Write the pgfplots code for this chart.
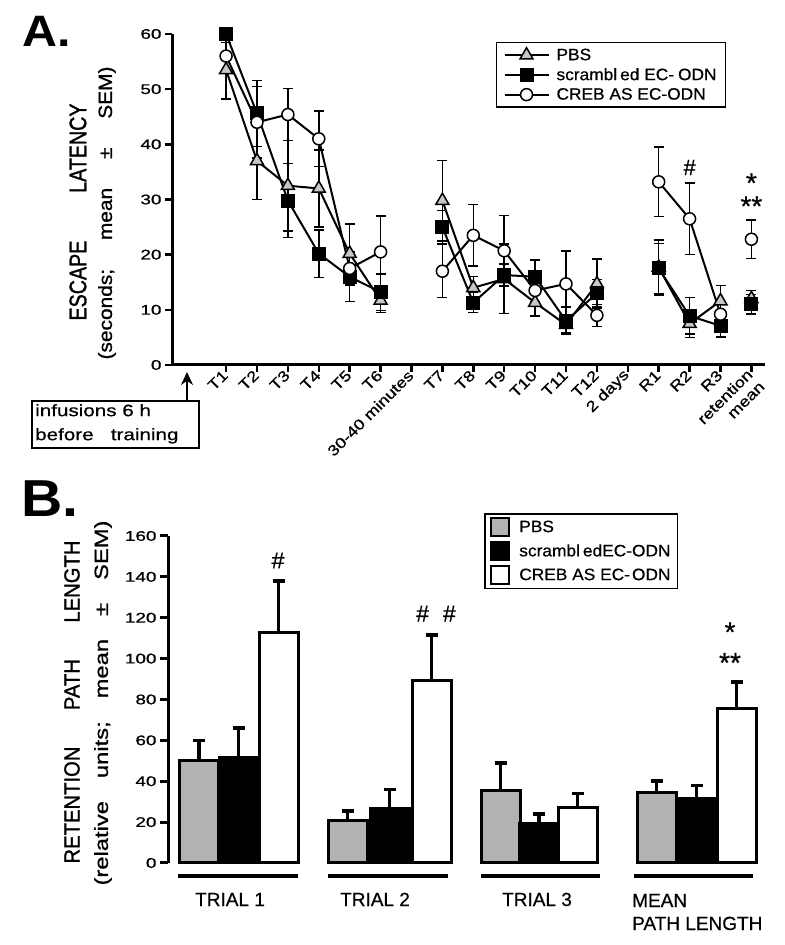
\documentclass[border=0pt]{standalone}
\usepackage{fontspec}
\setmainfont[FakeBold=0.6]{Liberation Sans}
\newfontfamily\tickfont[FakeStretch=1.35,FakeBold=0.8]{Liberation Sans}
\newfontfamily\xtfont[FakeStretch=1.2,FakeBold=0.8]{Liberation Sans}
\newfontfamily\legfont[FakeStretch=1.05,FakeBold=0.6]{Liberation Sans}
\newfontfamily\boxfont[FakeStretch=1.25,FakeBold=0.6]{Liberation Sans}
\newfontfamily\labAone[FakeStretch=0.82,FakeBold=1.2]{Liberation Sans}
\newfontfamily\labAtwo[FakeStretch=1.1,FakeBold=1.0]{Liberation Sans}
\newfontfamily\labBone[FakeStretch=0.92,FakeBold=1.2]{Liberation Sans}
\newfontfamily\labBtwo[FakeStretch=1.25,FakeBold=1.0]{Liberation Sans}
\newfontfamily\panelfont[FakeStretch=1.1]{Liberation Sans}
\usepackage{pgfplots}
\pgfplotsset{compat=1.18}
\usetikzlibrary{arrows.meta}

\pgfplotstableread{
x y e
1 53.5 5.3
2 37 7
3 32.5 8.2
4 32 7
5 20.2 5.4
6 11.7 2.2
7 nan 0
8 29.8 7.3
9 14 2
10 15.6 6.3
11 11.3 2.4
12 7.3 1.5
13 14.7 4.5
14 nan 0
15 17.7 5
16 7.5 2.5
17 11.6 2.8
17.5 nan 0
18 12 1.5
}\pbs
\pgfplotstableread{
x y e
1 60 1
2 45.6 6
3 29.8 6.7
4 20.2 4.3
5 16 4.5
6 13.2 3.3
7 nan 0
8 25 3
9 11.3 1.8
10 16.3 2
11 16 3
12 8 2.5
13 13 2.5
14 nan 0
15 17.5 4.5
16 8.9 3.3
17 7.1 2
17.5 nan 0
18 11 1.8
}\scr
\pgfplotstableread{
x y e
1 56 2.5
2 44 6.5
3 45.4 4.7
4 41 5
5 17.5 3
6 20.5 6.5
7 nan 0
8 17 4.8
9 23.5 5.6
10 20.7 6.4
11 13.5 2
12 14.7 6
13 9 2
14 nan 0
15 33.2 6.3
16 26.5 6.5
17 9.2 2
17.5 nan 0
18 22.8 3.5
}\creb

\pgfplotstableread{
x y e
199 50 10
347.5 21 4.5
500.5 35.5 13.5
656.5 34.5 5.5
}\bpbs
\pgfplotstableread{
x y e
238.5 51.5 14.5
389.5 26.5 9.5
539 19.5 4.5
696.5 31.5 6.5
}\bscr
\pgfplotstableread{
x y e
278.5 113 25
431.5 89.5 22
577.5 27 7
736.5 75.5 13
}\bcreb

\begin{document}
\begin{tikzpicture}
\path[use as bounding box] (0,0) rectangle (785bp,945bp);

% ---------------- Panel A ----------------
\begin{axis}[
  at={(172bp,580bp)}, anchor=south west,
  scale only axis, width=593bp, height=331bp,
  xmin=-0.75, xmax=18.44, ymin=0, ymax=60,
  axis x line*=bottom, axis y line*=left,
  axis line style={line width=3bp},
  tick align=outside, major tick length=7bp,
  tick style={line width=2.5bp, black},
  ytick={0,10,...,60},
  xtick={1,...,18},
  xticklabels={T1,T2,T3,T4,T5,T6,30-40 minutes,T7,T8,T9,T10,T11,T12,2 days,R1,R2,R3,{\phantom{mean}\\retention\\mean}},
  x tick label style={rotate=45, anchor=east, align=right, inner sep=1bp,
     font=\xtfont\fontsize{15bp}{17bp}\selectfont},
  y tick label style={font=\tickfont\fontsize{14bp}{16bp}\selectfont},
  /pgf/number format/assume math mode=true,
  clip=false,
  unbounded coords=jump,
  legend style={at={(0.546,0.976)}, anchor=north west, draw=black, line width=1.5bp,
     font=\legfont\fontsize{16.5bp}{18bp}\selectfont, inner xsep=7bp, inner ysep=4bp,
     row sep=2.5bp, column sep=5bp, cells={anchor=west}},
  legend image code/.code={\draw[mark repeat=2,mark phase=2,#1] plot coordinates {(0bp,0bp) (22bp,0bp) (44bp,0bp)};},
  every axis plot/.append style={line width=2bp, black},
  error bars/error bar style={line width=1.5bp},
  error bars/error mark options={rotate=90, line width=1.5bp, mark size=5bp},
]
\addplot[mark=triangle*, mark size=7.5bp, mark options={fill=black!22, draw=black, line width=1.5bp},
   error bars/.cd, y dir=both, y explicit]
   table[x=x,y=y,y error=e]{\pbs};
\addlegendentry{PBS}
\addplot[mark=square*, mark size=6bp, mark options={fill=black, draw=black},
   error bars/.cd, y dir=both, y explicit]
   table[x=x,y=y,y error=e]{\scr};
\addlegendentry{scrambl\kern3bp ed EC-\kern4bp ODN}
\addplot[mark=*, mark size=6bp, mark options={fill=white, draw=black, line width=1.5bp},
   error bars/.cd, y dir=both, y explicit]
   table[x=x,y=y,y error=e]{\creb};
\addlegendentry{CREB AS EC-ODN}
\node[font=\fontsize{22bp}{22bp}\selectfont] at (axis cs:16,35.8) {\#};
\node[font=\fontsize{28bp}{28bp}\selectfont] at (axis cs:18,33) {*};
\node[font=\fontsize{28bp}{28bp}\selectfont] at (axis cs:18,28.8) {**};
\end{axis}

% infusions box and arrow
\draw[line width=1.5bp] (32bp,544bp) rectangle (199bp,497bp);
\node[anchor=north west, align=left, inner sep=0pt, font=\boxfont\fontsize{16.5bp}{24bp}\selectfont]
  at (35bp,541bp) {infusions 6 h\\before\ \ \ training};
\draw[line width=2bp, -{Stealth[length=13bp,width=12bp]}] (187bp,544bp) -- (187bp,573bp);

% y label A
\node[rotate=90, inner sep=0pt, font=\labAone\fontsize{24bp}{24bp}\selectfont] at (78bp,733bp)
  {\makebox[217bp]{ESCAPE\hfill LATENCY}};
\node[rotate=90, inner sep=0pt, font=\labAtwo\fontsize{19bp}{19bp}\selectfont] at (107bp,732bp)
  {\makebox[293bp]{(seconds;\hfill mean\hfill ±\hfill SEM)}};
\node[anchor=base west, inner sep=0pt, font=\panelfont\bfseries\fontsize{44bp}{44bp}\selectfont] at (22bp,898bp) {A.};

% ---------------- Panel B ----------------
\begin{axis}[
  at={(168bp,82bp)}, anchor=south west,
  scale only axis, width=602bp, height=327bp,
  xmin=168, xmax=770, ymin=0, ymax=160,
  axis y line*=left, axis x line=none,
  axis line style={line width=3bp},
  tick align=outside, major tick length=8bp,
  tick style={line width=3bp, black},
  ytick={0,20,...,160},
  y tick label style={font=\tickfont\fontsize{14bp}{16bp}\selectfont},
  /pgf/number format/assume math mode=true,
  clip=false,
  legend style={at={(0.525,1.070)}, anchor=north west, draw=black, line width=1.5bp,
     font=\legfont\fontsize{16.5bp}{18bp}\selectfont, inner xsep=5bp, inner ysep=3bp,
     row sep=3.5bp, column sep=7bp, cells={anchor=west}},
  barleg/.style={legend image code/.code={\draw[##1, line width=2.5bp] (0bp,-9bp) rectangle (18bp,9bp);}},
  error bars/error bar style={line width=3.5bp},
  error bars/error mark options={rotate=90, line width=3.5bp, mark size=6bp},
]
\addplot[ybar, bar width=39, bar shift=0pt, draw=black, line width=3bp, fill=black!30, barleg,
   error bars/.cd, y dir=plus, y explicit]
   table[x=x,y=y,y error=e]{\bpbs};
\addlegendentry{PBS}
\addplot[ybar, bar width=39, bar shift=0pt, draw=black, line width=3bp, fill=black, barleg,
   error bars/.cd, y dir=plus, y explicit]
   table[x=x,y=y,y error=e]{\bscr};
\addlegendentry{scrambl\kern3bp edEC-ODN}
\addplot[ybar, bar width=39, bar shift=0pt, draw=black, line width=3bp, fill=white, barleg,
   error bars/.cd, y dir=plus, y explicit]
   table[x=x,y=y,y error=e]{\bcreb};
\addlegendentry{CREB AS EC-\kern2bp ODN}
\draw[line width=4bp] (axis cs:178,-6.4) -- (axis cs:298,-6.4);
\draw[line width=4bp] (axis cs:328,-6.4) -- (axis cs:448,-6.4);
\draw[line width=4bp] (axis cs:481,-6.4) -- (axis cs:600,-6.4);
\draw[line width=4bp] (axis cs:634,-6.4) -- (axis cs:753,-6.4);
\node[font=\fontsize{23bp}{23bp}\selectfont] at (axis cs:278,148) {\#};
\node[font=\fontsize{23bp}{23bp}\selectfont] at (axis cs:436,122) {\#\hspace{14bp}\#};
\node[font=\fontsize{28bp}{28bp}\selectfont] at (axis cs:730,113) {*};
\node[font=\fontsize{28bp}{28bp}\selectfont] at (axis cs:730,98) {**};
\end{axis}

% group labels
\begin{scope}[every node/.style={anchor=base west, inner sep=0pt, font=\fontsize{19bp}{23bp}\selectfont}]
\node at (195bp,39bp) {TRIAL 1};
\node at (340bp,39bp) {TRIAL 2};
\node at (502bp,39bp) {TRIAL 3};
\node at (632bp,38bp) {MEAN};
\node at (632bp,15bp) {PATH LENGTH};
\end{scope}

% y label B
\node[rotate=90, inner sep=0pt, font=\labBone\fontsize{22bp}{22bp}\selectfont] at (72bp,243bp)
  {\makebox[323bp]{RETENTION\hfill PATH\hfill LENGTH}};
\node[rotate=90, inner sep=0pt, font=\labBtwo\fontsize{19bp}{19bp}\selectfont] at (103bp,242bp)
  {\makebox[365bp]{(relative\hfill units;\hfill mean\hfill ±\hfill SEM)}};
\node[anchor=base west, inner sep=0pt, font=\panelfont\bfseries\fontsize{52bp}{52bp}\selectfont] at (21bp,428bp) {B.};
\end{tikzpicture}
\end{document}
